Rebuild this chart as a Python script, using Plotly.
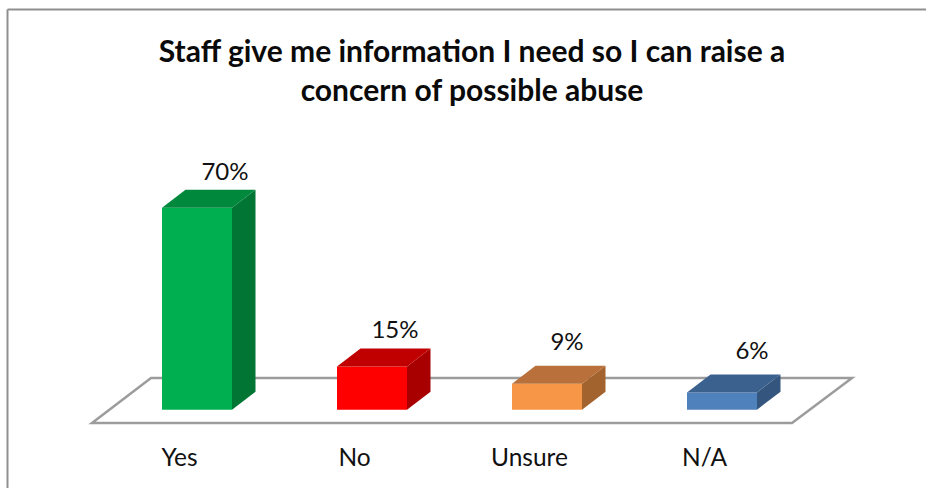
import plotly.graph_objects as go

categories = ["Yes", "No", "Unsure", "N/A"]
values = [70, 15, 9, 6]
labels = ["70%", "15%", "9%", "6%"]
front_colors = ["#00B050", "#FF0000", "#F79646", "#4F81BD"]
side_colors = ["#007534", "#A80000", "#A3632E", "#34557D"]
top_colors = ["#00883D", "#C00000", "#B9703A", "#3B618E"]
title = "Staff give me information I need so I can raise a<br>concern of possible abuse"

W, H = 926, 488
MB = 48
PX_PER_CAT = 175.0
PX_PER_PCT = 2.886
X0_PX = 197.0
Y0_PX = 409.7
BAR_W = 70 / PX_PER_CAT
DX = 23.5 / PX_PER_CAT
DY = 18 / PX_PER_PCT
FONT = "Lato, Carlito, Calibri, sans-serif"
GRAY = "#9c9c9c"
# hand-placed data labels: pixel offsets from the bar's centre / front top
LABEL_DX = [28, 23, 20, 30]
LABEL_DY = [22, 22, 28, 27]


def xv(p):
    return (p - X0_PX) / PX_PER_CAT


def yv(p):
    return (Y0_PX - p) / PX_PER_PCT


fig = go.Figure()
xs = list(range(len(categories)))

for i, v in zip(xs, values):
    l, r = i - BAR_W / 2, i + BAR_W / 2
    fig.add_trace(go.Scatter(
        x=[r, r + DX, r + DX, r, r], y=[0, DY, v + DY, v, 0],
        mode="lines", line=dict(width=0, color=side_colors[i]), fill="toself",
        fillcolor=side_colors[i], hoverinfo="skip", showlegend=False))
    fig.add_trace(go.Scatter(
        x=[l, r, r + DX, l + DX, l], y=[v, v, v + DY, v + DY, v],
        mode="lines", line=dict(width=0, color=top_colors[i]), fill="toself",
        fillcolor=top_colors[i], hoverinfo="skip", showlegend=False))

fig.add_trace(go.Bar(
    x=xs, y=values, width=BAR_W, marker=dict(color=front_colors, line=dict(width=0)),
    hoverinfo="skip", showlegend=False))

fig.add_trace(go.Scatter(
    x=[i + d / PX_PER_CAT for i, d in zip(xs, LABEL_DX)],
    y=[v + d / PX_PER_PCT for v, d in zip(values, LABEL_DY)],
    mode="text", text=labels, textposition="top center",
    textfont=dict(family=FONT, size=24, color="#111111"),
    hoverinfo="skip", showlegend=False))

floor_path = "M {} {} L {} {} L {} {} L {} {} Z".format(
    xv(92), yv(423), xv(792), yv(423), xv(852), yv(378), xv(151), yv(378))

fig.update_layout(
    width=W, height=H,
    margin=dict(l=0, r=0, t=0, b=MB),
    paper_bgcolor="white", plot_bgcolor="white",
    title=dict(
        text=title, x=472 / W, xanchor="center", xref="paper",
        y=1 - 62 / H, yref="container", yanchor="middle",
        font=dict(family=FONT, size=30, color="#0a0a0a", weight="bold")),
    xaxis=dict(
        range=[xv(0), xv(W)], showgrid=False, zeroline=False, showline=False,
        tickvals=[i - 17.5 / PX_PER_CAT for i in xs], ticktext=categories, ticklen=0,
        tickfont=dict(family=FONT, size=24.5, color="#111111")),
    yaxis=dict(
        range=[yv(H - MB), yv(0)], visible=False, showgrid=False, zeroline=False),
    shapes=[
        dict(type="path", path=floor_path, xref="x", yref="y", layer="below",
             fillcolor="white", line=dict(color=GRAY, width=2.5)),
        dict(type="line", xref="paper", yref="paper", x0=7.5 / W, x1=7.5 / W,
             y0=-1, y1=1 - 9.5 / (H - MB), line=dict(color="#8f8f8f", width=2)),
        dict(type="line", xref="paper", yref="paper", x0=7.5 / W, x1=1,
             y0=1 - 9.5 / (H - MB), y1=1 - 9.5 / (H - MB), line=dict(color="#8f8f8f", width=2)),
    ],
)
fig.write_html("out.html", config={"displayModeBar": False},
               post_script="document.body.style.margin='0';")
